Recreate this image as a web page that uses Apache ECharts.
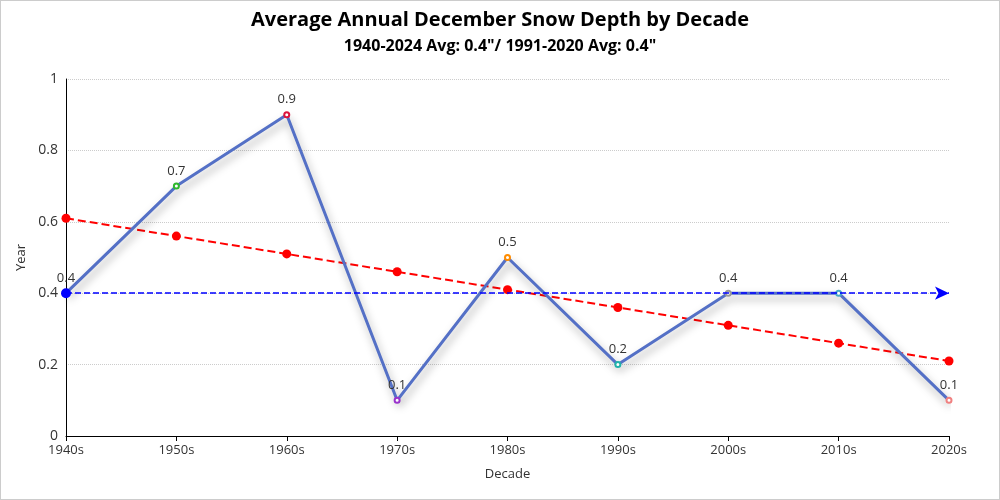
<!DOCTYPE html>
<html><head><meta charset="utf-8">
<script src="https://cdn.jsdelivr.net/npm/echarts@6/dist/echarts.min.js"></script>
<style>html,body{margin:0;padding:0;background:#fff}#c{width:998px;height:498px;border:1px solid #ccc}</style>
</head><body><div id="c"></div>
<script>
const decades = ['1940s','1950s','1960s','1970s','1980s','1990s','2000s','2010s','2020s'];
const snowDepth = [0.4,0.7,0.9,0.1,0.5,0.2,0.4,0.4,0.1];
const trend = [0.61,0.56,0.51,0.46,0.41,0.36,0.31,0.26,0.21];
const pointColors = ['#3a5bd0','#2eb82e','#dc143c','#9932cc','#ff8c00','#20b2aa','#999999','#48a9c5','#f08080'];
const avgLine = 0.4;
const font = "'Open Sans', 'Noto Sans', sans-serif";
const chart = echarts.init(document.getElementById('c'));
chart.setOption({
  textStyle:{fontFamily:font},
  title:{text:'Average Annual December Snow Depth by Decade',
    subtext:'1940-2024 Avg: 0.4"/ 1991-2020 Avg: 0.4"',
    left:'center', top:4, itemGap:8,
    textStyle:{fontFamily:font,fontSize:20,fontWeight:'bold',color:'#000'},
    subtextStyle:{fontFamily:font,fontSize:16,fontWeight:'bold',color:'#000'}},
  grid:{left:65,right:50,top:78,bottom:63},
  xAxis:{type:'category',data:decades,boundaryGap:false,name:'Decade',nameLocation:'middle',nameGap:32,
    nameTextStyle:{color:'#333',fontSize:13},
    axisLine:{lineStyle:{color:'#000'}},axisTick:{show:true,lineStyle:{color:'#000'}},
    axisLabel:{color:'#333',fontSize:13}},
  yAxis:{type:'value',min:0,max:1,interval:0.2,name:'Year',nameLocation:'middle',nameGap:27,
    nameTextStyle:{color:'#333',fontSize:13},
    axisLine:{show:true,lineStyle:{color:'#000'}},
    axisLabel:{color:'#333',fontSize:14},
    splitLine:{lineStyle:{type:'dotted',color:'#ccc'}}},
  series:[
    {type:'line',data:snowDepth.map((v,i)=>({value:v,itemStyle:{color:pointColors[i],borderColor:pointColors[i]}})),
     symbol:'emptyCircle',symbolSize:5,
     lineStyle:{color:'#5470c6',width:3,shadowColor:'rgba(0,0,0,0.35)',shadowBlur:8,shadowOffsetY:5,shadowOffsetX:2},
     itemStyle:{borderWidth:2},
     label:{show:true,position:'top',color:'#333',fontSize:13},
     z:3},
    {type:'line',data:trend,symbol:'circle',symbolSize:9,
     lineStyle:{color:'#ff0000',type:'dashed',width:2},itemStyle:{color:'#ff0000'},z:2},
    {type:'line',data:[],color:'#0000ff',z:4,
     markLine:{symbol:['circle','arrow'],symbolSize:[10,14],silent:true,
       data:[{yAxis:avgLine,lineStyle:{color:'#0000ff',type:'dashed',width:1.5},itemStyle:{color:'#0000ff'},label:{show:false}}]}}
  ]
});
</script></body></html>
